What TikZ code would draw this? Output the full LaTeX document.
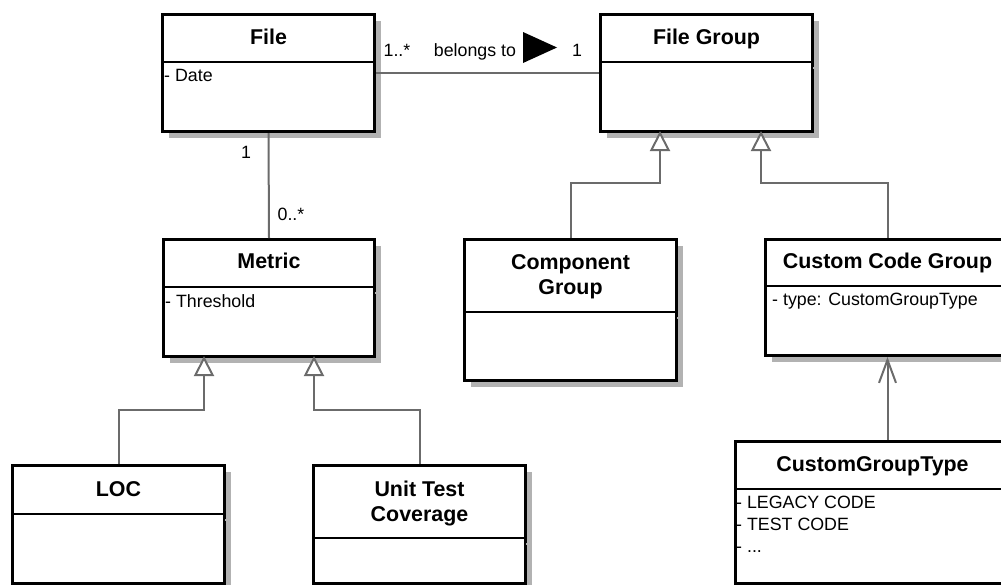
\documentclass[tikz,border=0pt]{standalone}
\usepackage{fontspec}
\setmainfont{Liberation Sans}
\usetikzlibrary{arrows.meta,shadows}
\newcommand\titlefont{\fontsize{21.4}{25}\selectfont\bfseries}
\newcommand\attrfont{\fontsize{17.8}{22}\selectfont}
\tikzset{
	classbox/.style={draw, line width=3pt, fill=white, inner sep=0pt, anchor=north west,
		drop shadow={shadow xshift=6pt, shadow yshift=-6pt, fill=black!30, opacity=1}},
	classname/.style={font=\titlefont, align=center, anchor=base, inner sep=0pt},
	attrs/.style={font=\attrfont, align=left, anchor=north west, inner sep=0pt},
	divider/.style={line width=2.5pt},
	conn/.style={draw=black!58, line width=2pt},
	inherit/.style={conn, shorten >=-2pt, -{Triangle[open, fill=white, width=20pt, length=20pt, line width=2pt]}},
	navig/.style={conn, -{Straight Barb[width=17pt, length=23pt, line width=2pt]}},
	mult/.style={font=\attrfont, anchor=base, inner sep=0pt},
}
\begin{document}
\begin{tikzpicture}[x=1pt,y=-1pt]
	\useasboundingbox (0,0) rectangle (1001,584);

	% classes
	\node[classbox, minimum width=212pt, minimum height=117pt] (file)   at (161,13)  {};
	\node[classbox, minimum width=212pt, minimum height=117pt] (fgroup) at (599,13)  {};
	\node[classbox, minimum width=211pt, minimum height=117pt] (metric) at (162,238) {};
	\node[classbox, minimum width=212pt, minimum height=141pt] (comp)   at (463,238) {};
	\node[classbox, minimum width=244pt, minimum height=116pt] (ccg)    at (764,238) {};
	\node[classbox, minimum width=212pt, minimum height=118pt] (loc)    at (11,464)  {};
	\node[classbox, minimum width=212pt, minimum height=118pt] (utc)    at (312,464) {};
	\node[classbox, minimum width=274pt, minimum height=142pt] (cgt)    at (734,440) {};

	% shadow stubs of the dividers
	\foreach \x/\y in {811/68, 373/293, 675/318, 223/520, 524/544}
		\draw[black!30, line width=2pt] (\x+2,\y) -- (\x+8,\y);

	\draw[divider] (file.west |- 0,62)    -- (file.east |- 0,62);
	\draw[divider] (fgroup.west |- 0,62)  -- (fgroup.east |- 0,62);
	\draw[divider] (metric.west |- 0,287) -- (metric.east |- 0,287);
	\draw[divider] (comp.west |- 0,312)   -- (comp.east |- 0,312);
	\draw[divider] (ccg.west |- 0,286)    -- (ccg.east |- 0,286);
	\draw[divider] (loc.west |- 0,514)    -- (loc.east |- 0,514);
	\draw[divider] (utc.west |- 0,538)    -- (utc.east |- 0,538);
	\draw[divider] (cgt.west |- 0,489)    -- (cgt.east |- 0,489);

	% base of a two-line title is its last line
	\node[classname] (filet)   at (file.north |- 0,44)    {File};
	\node[classname] (fgroupt) at (fgroup.north |- 0,44)  {File Group};
	\node[classname] (metrict) at (metric.north |- 0,268) {Metric};
	\node[classname] (compt)   at (comp.north |- 0,294)   {Component\\Group};
	\node[classname] (ccgt)    at (ccg.north |- 0,268)    {Custom Code Group};
	\node[classname] (loct)    at (loc.north |- 0,496)    {LOC};
	\node[classname] (utct)    at (utc.north |- 0,521)    {Unit Test\\Coverage};
	\node[classname] (cgtt)    at (cgt.north |- 0,471)    {CustomGroupType};

	\node[attrs] (filea)   at (164,69)  {- Date};
	\node[attrs] (metrica) at (165,294) {- Threshold};
	\node[attrs] (ccga)    at (772,293) {- type: CustomGroupType};
	\node[attrs] (cgta)    at (736,496) {- LEGACY CODE\\- TEST CODE\\- ...};

	% associations
	\draw[conn] (file.east) -- (fgroup.west);
	\node[mult] (mfile)    at (397,56)  {1..*};
	\node[mult] (belongs)  at (475,56)  {belongs to};
	\node[mult] (mfgroup)  at (577,56)  {1};
	\fill (523,32) -- (557,47.5) -- (523,63) -- cycle;

	\draw[conn] (file.south) -- (metric.north);
	\node[mult] (mfile2)   at (246,158) {1};
	\node[mult] (mmetric)  at (291,220) {0..*};

	\draw[navig] (ccg.south |- cgt.north) -- (ccg.south);

	% generalizations
	\draw[inherit] (loc.north)  -- (loc.north |- 0,410)  -| (metric.south -| 204,0);
	\draw[inherit] (utc.north)  -- (utc.north |- 0,410)  -| (metric.south -| 314,0);
	\draw[inherit] (comp.north) -- (comp.north |- 0,183) -| (fgroup.south -| 660,0);
	\draw[inherit] (ccg.north)  -- (ccg.north |- 0,183)  -| (fgroup.south -| 761,0);
\end{tikzpicture}
\end{document}
